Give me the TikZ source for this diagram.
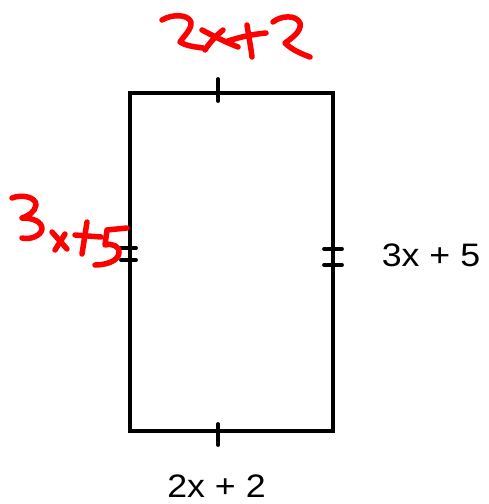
\documentclass[tikz,border=0pt]{standalone}
\usepackage{fontspec}
\setmainfont{Liberation Sans}
\begin{document}
\begin{tikzpicture}[x=1pt,y=-1pt,
  boxline/.style={line width=3.8pt,line join=miter},
  tickmark/.style={line width=3.8pt,line cap=round},
  hand/.style={red,line width=5.5pt,line cap=round,line join=round},
  lbl/.style={font=\fontsize{32.5}{32.5}\selectfont,inner sep=0pt,xscale=1.1}]
\useasboundingbox (0,0) rectangle (489,504);
\coordinate (tl) at (130,93);
\coordinate (br) at (333,431);
\draw[boxline] (tl) rectangle (br);
% ticks
\draw[tickmark] (218,79) -- (218,101);
\draw[tickmark] (218,424) -- (218,445);
\draw[tickmark] (121,248) -- (136,248);
\draw[tickmark] (121,260) -- (136,260);
\draw[tickmark] (324,249) -- (342,249);
\draw[tickmark] (324,265) -- (342,265);
% black labels
\node[lbl] (r) at (431,255) {3x + 5};
\node[lbl] (b) at (216.5,486) {2x + 2};
% red handwriting: 2x+2
\draw[hand] (162,20) .. controls (172,14) and (188,14) .. (191,22) .. controls (192,29) and (184,36) .. (180,42) .. controls (186,46) and (196,47) .. (203,48);
\draw[hand] (202,30) .. controls (215,37) and (228,43) .. (238,47);
\draw[hand] (205,50) .. controls (210,42) and (216,36) .. (223,30);
\draw[hand] (228,41) .. controls (240,37) and (254,34) .. (266,33);
\draw[hand] (247,25) .. controls (249,38) and (251,48) .. (252,57);
\draw[hand] (273,22) .. controls (280,16) and (296,14) .. (300,23) .. controls (302,31) and (292,38) .. (285,43) .. controls (292,50) and (302,54) .. (310,57);
% red handwriting: 3x+5
\draw[hand] (12,198) .. controls (22,194) and (36,197) .. (36,205) .. controls (35,212) and (28,216) .. (22,218) .. controls (32,218) and (42,221) .. (42,229) .. controls (41,236) and (30,240) .. (22,238);
\draw[hand] (52,232) -- (67,249);
\draw[hand] (55,250) -- (65,234);
\draw[hand] (75,235) -- (101,237);
\draw[hand] (87,222) -- (82,254);
\draw[hand] (127,228) -- (107,230) -- (105,245) .. controls (112,243) and (120,246) .. (119,253) .. controls (118,262) and (104,265) .. (95,265);
\end{tikzpicture}
\end{document}
